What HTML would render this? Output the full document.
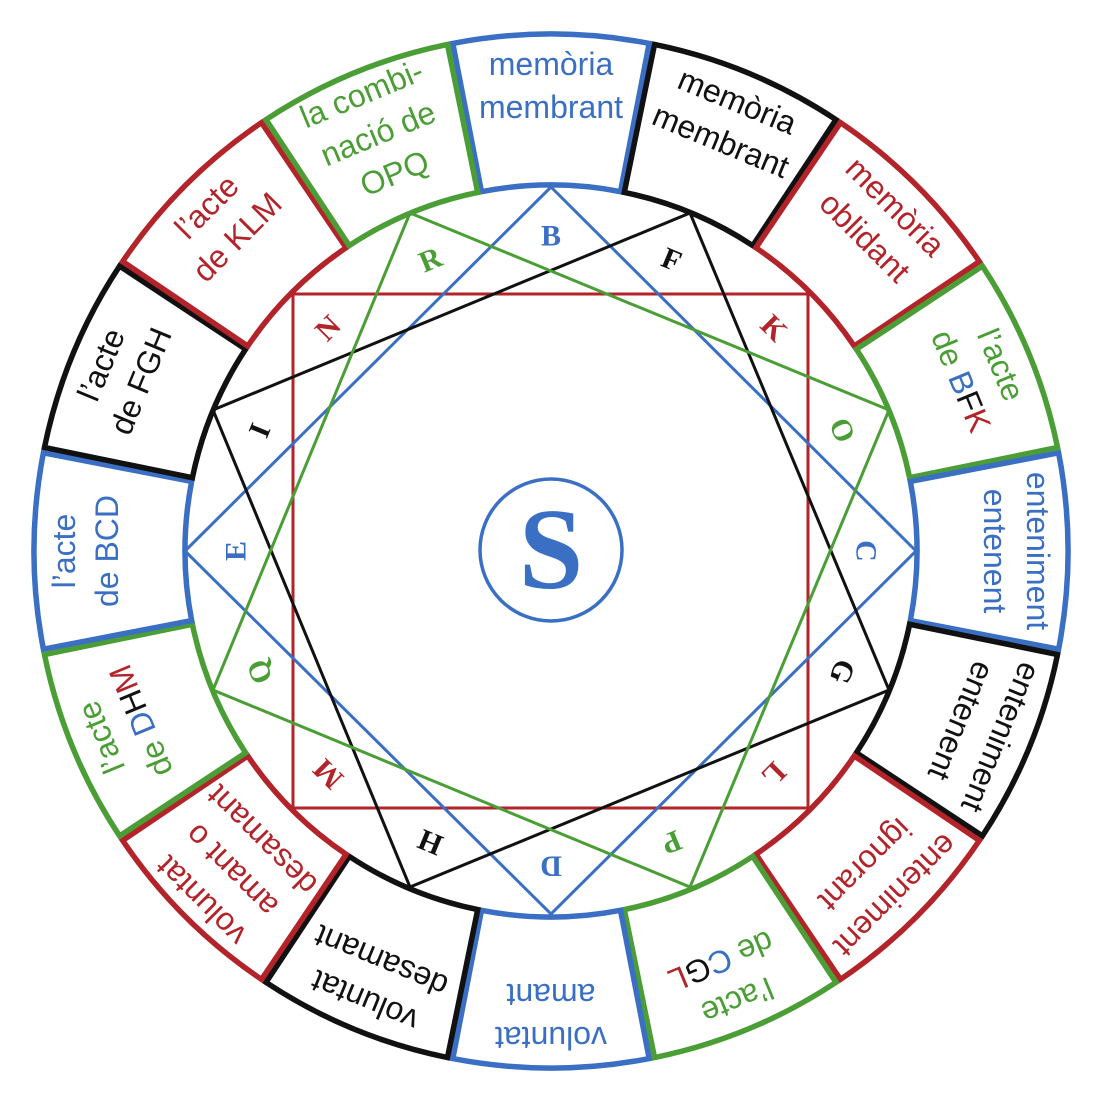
<!DOCTYPE html>
<html><head><meta charset="utf-8"><style>
html,body{margin:0;padding:0;background:#fff;width:1103px;height:1103px;overflow:hidden}
svg{display:block}
.t{font-family:"Liberation Sans",sans-serif;font-size:32px;text-anchor:middle}
.l{font-family:"Liberation Serif",serif;font-weight:bold;font-size:30px;text-anchor:middle;dominant-baseline:central}
</style></head><body>
<svg width="1103" height="1103" viewBox="0 0 1103 1103" xmlns="http://www.w3.org/2000/svg">
<defs>
<path id="sec" d="M452.80,43.41 A517,517 0 0 1 649.20,43.41 L620.52,191.66 A366,366 0 0 0 481.48,191.66 Z" fill="none" stroke-width="5.5"/>
</defs>
<g transform="rotate(0 551 551)"><use href="#sec" stroke="#3a6fc4"/><text class="t" fill="#3a6fc4" x="551" y="75">memòria</text><text class="t" fill="#3a6fc4" x="551" y="118">membrant</text></g>
<g transform="rotate(22.5 551 551)"><use href="#sec" stroke="#111"/><text class="t" fill="#111" x="551" y="75">memòria</text><text class="t" fill="#111" x="551" y="118">membrant</text></g>
<g transform="rotate(45 551 551)"><use href="#sec" stroke="#b3242a"/><text class="t" fill="#b3242a" x="551" y="75">memòria</text><text class="t" fill="#b3242a" x="551" y="118">oblidant</text></g>
<g transform="rotate(67.5 551 551)"><use href="#sec" stroke="#4a9e35"/><text class="t" fill="#4a9e35" x="551" y="75">l’acte</text><text class="t" fill="#4a9e35" x="551" y="118">de <tspan fill="#3a6fc4">B</tspan><tspan fill="#111">F</tspan><tspan fill="#b3242a">K</tspan></text></g>
<g transform="rotate(90 551 551)"><use href="#sec" stroke="#3a6fc4"/><text class="t" fill="#3a6fc4" x="551" y="75">enteniment</text><text class="t" fill="#3a6fc4" x="551" y="118">entenent</text></g>
<g transform="rotate(112.5 551 551)"><use href="#sec" stroke="#111"/><text class="t" fill="#111" x="551" y="75">enteniment</text><text class="t" fill="#111" x="551" y="118">entenent</text></g>
<g transform="rotate(135 551 551)"><use href="#sec" stroke="#b3242a"/><text class="t" fill="#b3242a" x="551" y="75">enteniment</text><text class="t" fill="#b3242a" x="551" y="118">ignorant</text></g>
<g transform="rotate(157.5 551 551)"><use href="#sec" stroke="#4a9e35"/><text class="t" fill="#4a9e35" x="551" y="75">l’acte</text><text class="t" fill="#4a9e35" x="551" y="118">de <tspan fill="#3a6fc4">C</tspan><tspan fill="#111">G</tspan><tspan fill="#b3242a">L</tspan></text></g>
<g transform="rotate(180 551 551)"><use href="#sec" stroke="#3a6fc4"/><text class="t" fill="#3a6fc4" x="551" y="75">voluntat</text><text class="t" fill="#3a6fc4" x="551" y="118">amant</text></g>
<g transform="rotate(202.5 551 551)"><use href="#sec" stroke="#111"/><text class="t" fill="#111" x="551" y="75">voluntat</text><text class="t" fill="#111" x="551" y="118">desamant</text></g>
<g transform="rotate(225 551 551)"><use href="#sec" stroke="#b3242a"/><text class="t" fill="#b3242a" x="551" y="67">voluntat</text><text class="t" fill="#b3242a" x="551" y="110">amant o</text><text class="t" fill="#b3242a" x="551" y="153">desamant</text></g>
<g transform="rotate(247.5 551 551)"><use href="#sec" stroke="#4a9e35"/><text class="t" fill="#4a9e35" x="551" y="75">l’acte</text><text class="t" fill="#4a9e35" x="551" y="118">de <tspan fill="#3a6fc4">D</tspan><tspan fill="#111">H</tspan><tspan fill="#b3242a">M</tspan></text></g>
<g transform="rotate(270 551 551)"><use href="#sec" stroke="#3a6fc4"/><text class="t" fill="#3a6fc4" x="551" y="75">l’acte</text><text class="t" fill="#3a6fc4" x="551" y="118">de BCD</text></g>
<g transform="rotate(292.5 551 551)"><use href="#sec" stroke="#111"/><text class="t" fill="#111" x="551" y="75">l’acte</text><text class="t" fill="#111" x="551" y="118">de FGH</text></g>
<g transform="rotate(315 551 551)"><use href="#sec" stroke="#b3242a"/><text class="t" fill="#b3242a" x="551" y="75">l’acte</text><text class="t" fill="#b3242a" x="551" y="118">de KLM</text></g>
<g transform="rotate(337.5 551 551)"><use href="#sec" stroke="#4a9e35"/><text class="t" fill="#4a9e35" x="551" y="67">la combi-</text><text class="t" fill="#4a9e35" x="551" y="110">nació de</text><text class="t" fill="#4a9e35" x="551" y="153">OPQ</text></g>

<g fill="none" stroke-width="3">
<rect x="293" y="294" width="515" height="514" stroke="#b3242a"/>
<polygon points="551,187 916,551 551,914 185,551" stroke="#3a6fc4"/>
<polygon points="690,213 889,690 410,887 213,410" stroke="#111"/>
<polygon points="410,213 889,410 690,887 213,690" stroke="#4a9e35"/>
</g>
<g transform="rotate(0 551 551)"><text class="l" fill="#3a6fc4" x="551" y="236">B</text></g>
<g transform="rotate(22.5 551 551)"><text class="l" fill="#111" x="551" y="236">F</text></g>
<g transform="rotate(45 551 551)"><text class="l" fill="#b3242a" x="551" y="236">K</text></g>
<g transform="rotate(67.5 551 551)"><text class="l" fill="#4a9e35" x="551" y="236">O</text></g>
<g transform="rotate(90 551 551)"><text class="l" fill="#3a6fc4" x="551" y="236">C</text></g>
<g transform="rotate(112.5 551 551)"><text class="l" fill="#111" x="551" y="236">G</text></g>
<g transform="rotate(135 551 551)"><text class="l" fill="#b3242a" x="551" y="236">L</text></g>
<g transform="rotate(157.5 551 551)"><text class="l" fill="#4a9e35" x="551" y="236">P</text></g>
<g transform="rotate(180 551 551)"><text class="l" fill="#3a6fc4" x="551" y="236">D</text></g>
<g transform="rotate(202.5 551 551)"><text class="l" fill="#111" x="551" y="236">H</text></g>
<g transform="rotate(225 551 551)"><text class="l" fill="#b3242a" x="551" y="236">M</text></g>
<g transform="rotate(247.5 551 551)"><text class="l" fill="#4a9e35" x="551" y="236">Q</text></g>
<g transform="rotate(270 551 551)"><text class="l" fill="#3a6fc4" x="551" y="236">E</text></g>
<g transform="rotate(292.5 551 551)"><text class="l" fill="#111" x="551" y="236">I</text></g>
<g transform="rotate(315 551 551)"><text class="l" fill="#b3242a" x="551" y="236">N</text></g>
<g transform="rotate(337.5 551 551)"><text class="l" fill="#4a9e35" x="551" y="236">R</text></g>

<circle cx="551" cy="550" r="71" fill="#fff" stroke="#3a6fc4" stroke-width="3.5"/>
<text x="551" y="550" fill="#3a6fc4" style="font-family:'Liberation Serif',serif;font-weight:bold;font-size:116px;text-anchor:middle;dominant-baseline:central">S</text>
</svg>
</body></html>
